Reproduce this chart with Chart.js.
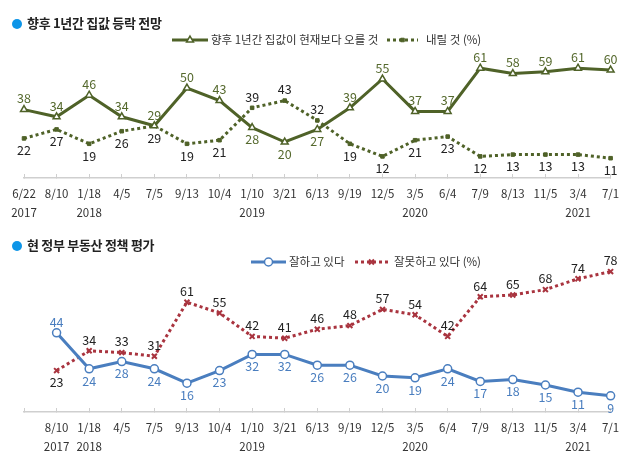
<!DOCTYPE html>
<html>
<head>
<meta charset="utf-8">
<script src="https://cdn.jsdelivr.net/npm/chart.js@4.4.1/dist/chart.umd.min.js"></script>
<style>
body { margin: 0; background: #fff; font-family: "Noto Sans CJK KR", sans-serif; }
#wrap { position: relative; width: 630px; height: 459px; }
canvas { position: absolute; left: 0; }
.ttl { position: absolute; left: 12px; font-size: 13px; font-weight: bold; color: #222; line-height: 16px; letter-spacing: -0.3px; }
.ttl i { display: inline-block; width: 10px; height: 10px; border-radius: 50%; background: #0d95e8; margin-right: 5px; vertical-align: -1px; }
</style>
</head>
<body>
<div id="wrap">
  <canvas id="outlook" width="630" height="222" style="top:0"></canvas>
  <canvas id="policy" width="630" height="237" style="top:222px"></canvas>
  <div class="ttl" style="top:15px"><i></i>향후 1년간 집값 등락 전망</div>
  <div class="ttl" style="top:237px"><i></i>현 정부 부동산 정책 평가</div>
</div>
<script>
// survey dates (top chart), year shown under some of them
var dates = ['6/22', '8/10', '1/18', '4/5', '7/5', '9/13', '10/4', '1/10', '3/21', '6/13',
             '9/19', '12/5', '3/5', '6/4', '7/9', '8/13', '11/5', '3/4', '7/1'];
var years = ['2017', '', '2018', '', '', '', '', '2019', '', '',
             '', '', '2020', '', '', '', '', '2021', ''];
var riseValues = [38, 34, 46, 34, 29, 50, 43, 28, 20, 27, 39, 55, 37, 37, 61, 58, 59, 61, 60];
var fallValues = [22, 27, 19, 26, 29, 19, 21, 39, 43, 32, 19, 12, 21, 23, 12, 13, 13, 13, 11];

// policy evaluation starts one survey later (8/10 2017)
var policyDates = ['8/10', '1/18', '4/5', '7/5', '9/13', '10/4', '1/10', '3/21', '6/13',
                   '9/19', '12/5', '3/5', '6/4', '7/9', '8/13', '11/5', '3/4', '7/1'];
var policyYears = ['2017', '2018', '', '', '', '', '2019', '', '',
                   '', '', '2020', '', '', '', '', '2021', ''];
var goodValues = [44, 24, 28, 24, 16, 23, 32, 32, 26, 26, 20, 19, 24, 17, 18, 15, 11, 9];
var badValues = [23, 34, 33, 31, 61, 55, 42, 41, 46, 48, 57, 54, 42, 64, 65, 68, 74, 78];

var FONT = '"Noto Sans CJK KR", sans-serif';
var GREEN = '#4f6228';
var BLUE = '#4a7ebf';
var RED = '#a9343f';

function makeLabels(d, y) {
  return d.map(function(v, i) { return y[i] ? [v, y[i]] : v; });
}

// higher value of the pair gets its label above the point, lower one below
var valueLabels = {
  id: 'valueLabels',
  afterDatasetsDraw: function(chart) {
    var ctx = chart.ctx;
    var sets = chart.data.datasets;
    ctx.save();
    ctx.font = '12.5px ' + FONT;
    ctx.textAlign = 'center';
    ctx.textBaseline = 'middle';
    sets.forEach(function(ds, di) {
      var other = sets[1 - di];
      chart.getDatasetMeta(di).data.forEach(function(pt, i) {
        var v = ds.data[i];
        if (v == null) return;
        var o = other.data[i];
        var above = o == null || v > o || (v === o && di === 0);
        ctx.fillStyle = ds.labelColor;
        ctx.fillText(v, pt.x, pt.y + (above ? -11 : 12));
      });
    });
    ctx.restore();
  }
};

// legend: line sample with marker in the middle, then the label
var lineLegend = {
  id: 'lineLegend',
  afterDraw: function(chart, args, opts) {
    var ctx = chart.ctx;
    chart.data.datasets.forEach(function(ds, i) {
      var x = opts.x[i], y = opts.y, w = opts.w[i];
      ctx.save();
      ctx.strokeStyle = ds.borderColor;
      ctx.lineWidth = ds.borderWidth;
      ctx.setLineDash(ds.borderDash || []);
      ctx.beginPath();
      ctx.moveTo(x, y);
      ctx.lineTo(x + w, y);
      ctx.stroke();
      ctx.setLineDash([]);
      ctx.fillStyle = ds.pointBackgroundColor;
      ctx.strokeStyle = ds.pointBorderColor;
      ctx.lineWidth = ds.pointBorderWidth;
      Chart.helpers.drawPoint(ctx, {
        pointStyle: ds.pointStyle, radius: ds.pointRadius,
        borderWidth: ds.pointBorderWidth, rotation: 0
      }, x + w / 2, y);
      ctx.fillStyle = '#333';
      ctx.font = '11.5px ' + FONT;
      ctx.textBaseline = 'middle';
      ctx.textAlign = 'left';
      ctx.fillText(ds.label, x + w + opts.gap[i], y);
      ctx.restore();
    });
  }
};

function baseOptions(yMax, padTop, axisHeight, legend) {
  return {
    responsive: false,
    animation: false,
    events: [],
    layout: { padding: { left: 24, right: 16, top: padTop, bottom: 0 } },
    plugins: {
      legend: { display: false },
      tooltip: { enabled: false },
      lineLegend: legend
    },
    scales: {
      y: { display: false, min: 0, max: yMax },
      x: {
        grid: { drawOnChartArea: false, tickLength: -4, color: '#cfcfcf' },
        border: { color: '#cfcfcf', width: 1.5 },
        ticks: {
          color: '#333', autoSkip: false, maxRotation: 0, padding: 10.75,
          font: { family: FONT, size: 11.5, lineHeight: 1.6 }
        },
        afterFit: function(s) { s.height = axisHeight; }
      }
    }
  };
}

new Chart(document.getElementById('outlook'), {
  type: 'line',
  data: {
    labels: makeLabels(dates, years),
    datasets: [{
      label: '향후 1년간 집값이 현재보다 오를 것',
      data: riseValues,
      borderColor: GREEN, borderWidth: 3,
      pointStyle: 'triangle', pointRadius: 4,
      pointBackgroundColor: '#fff', pointBorderColor: GREEN, pointBorderWidth: 1.5,
      labelColor: '#55692d'
    }, {
      label: '내릴 것 (%)',
      data: fallValues,
      borderColor: GREEN, borderWidth: 3, borderDash: [3, 3],
      pointStyle: 'rect', pointRadius: 2.5,
      pointBackgroundColor: GREEN, pointBorderColor: GREEN, pointBorderWidth: 1,
      labelColor: '#222'
    }]
  },
  options: baseOptions(70, 52, 44, { x: [172, 387], w: [36, 31], gap: [3, 8], y: 40 }),
  plugins: [valueLabels, lineLegend]
});

new Chart(document.getElementById('policy'), {
  type: 'line',
  data: {
    labels: [''].concat(makeLabels(policyDates, policyYears)),
    datasets: [{
      label: '잘하고 있다',
      data: [null].concat(goodValues),
      borderColor: BLUE, borderWidth: 3,
      pointStyle: 'circle', pointRadius: 4,
      pointBackgroundColor: '#fff', pointBorderColor: BLUE, pointBorderWidth: 1.5,
      labelColor: BLUE
    }, {
      label: '잘못하고 있다 (%)',
      data: [null].concat(badValues),
      borderColor: RED, borderWidth: 3, borderDash: [3, 3],
      pointStyle: 'crossRot', pointRadius: 3.5,
      pointBackgroundColor: RED, pointBorderColor: RED, pointBorderWidth: 2,
      labelColor: '#222'
    }]
  },
  options: baseOptions(85, 37, 47, { x: [251, 355], w: [35, 33], gap: [3, 6], y: 40 }),
  plugins: [valueLabels, lineLegend]
});
</script>
</body>
</html>
